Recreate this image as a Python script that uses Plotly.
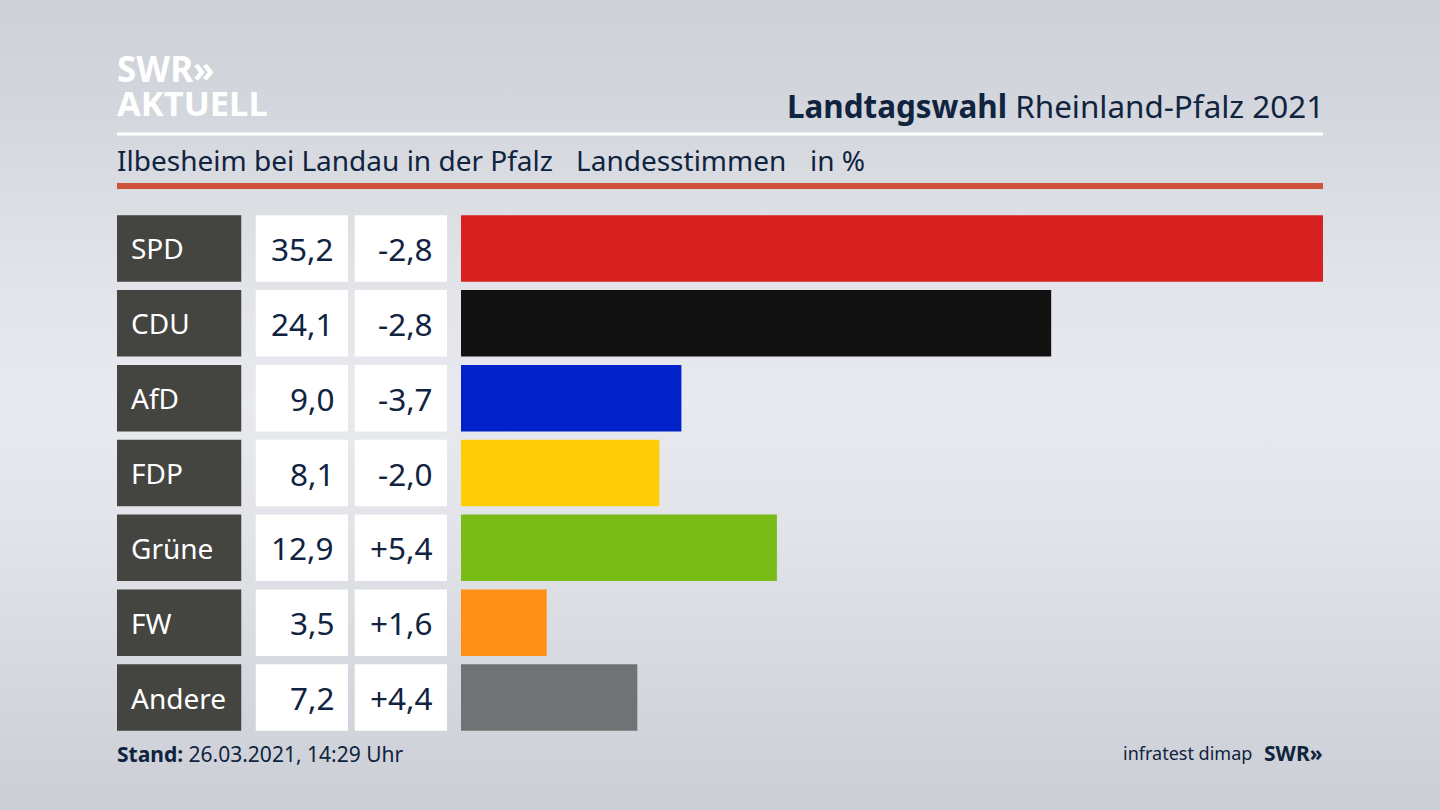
###########
# IMPORTS #
###########
import plotly.graph_objects as go

########
# DATA #
########
parties = ['SPD', 'CDU', 'AfD', 'FDP', 'Grüne', 'FW', 'Andere']
shares = [35.2, 24.1, 9.0, 8.1, 12.9, 3.5, 7.2]
changes = [-2.8, -2.8, -3.7, -2.0, 5.4, 1.6, 4.4]
party_colors = ['#D7201F', '#121212', '#0022C8', '#FFCD08', '#79BC18', '#FF9015', '#717273']

W, H = 1440, 810
FONT = 'Noto Sans'
INK = '#10233F'


def px_x(x):
    return x / W


def px_y(y):
    return 1 - y / H


def de_num(v, sign=False):
    fmt = '{:+.1f}' if sign else '{:.1f}'
    return fmt.format(v).replace('.', ',')


fig = go.Figure()

# Bars
fig.add_trace(go.Bar(y=parties, x=shares, orientation='h',
                     marker=dict(color=party_colors, line=dict(width=0)),
                     xaxis='x', yaxis='y', hoverinfo='skip'))

# Label and number cells are one-unit bars on their own small axes
cells = [('x2', '#444441', 117, 241.5), ('x3', '#FFFFFF', 255.5, 348), ('x4', '#FFFFFF', 354.5, 447)]
axis_layout = {}
for name, color, left, right in cells:
    fig.add_trace(go.Bar(y=parties, x=[1] * len(parties), orientation='h',
                         marker=dict(color=color, line=dict(width=0)),
                         xaxis=name, yaxis='y', hoverinfo='skip'))
    axis_layout['xaxis' + name[1:]] = dict(domain=[px_x(left), px_x(right)], range=[0, 1],
                                           visible=False, fixedrange=True, anchor='y')

annotations = []


def add_text(text, x, y, size, color=INK, anchor='left', yref='paper', height=None):
    annotations.append(dict(text=text, x=x, y=y, xref='paper', yref=yref, xanchor=anchor,
                            yanchor='middle', showarrow=False, borderpad=0, borderwidth=0,
                            height=height,
                            font=dict(family=FONT, size=size, color=color)))


# Row texts
for party, share, change in zip(parties, shares, changes):
    add_text(party, px_x(131), party, 28, '#FFFFFF', yref='y')
    add_text(de_num(share), px_x(333.5), party, 31.5, anchor='right', yref='y')
    add_text(de_num(change, sign=True), px_x(433), party, 31.5, anchor='right', yref='y')

# Header
add_text('<b>SWR»</b>', px_x(117), px_y(68), 35, '#FFFFFF', height=30)
add_text('<b>AKTUELL</b>', px_x(117), px_y(102), 34.5, '#FFFFFF', height=30)
add_text('<b>Landtagswahl</b> Rheinland-Pfalz 2021', px_x(1324), px_y(105), 31.4, anchor='right')
add_text('Ilbesheim bei Landau in der Pfalz', px_x(117), px_y(160), 28)
add_text('Landesstimmen', px_x(576), px_y(160), 28)
add_text('in %', px_x(810), px_y(160), 28)

# Footer
add_text('<b>Stand:</b> 26.03.2021, 14:29 Uhr', px_x(117), px_y(754), 21)
add_text('infratest dimap', px_x(1252), px_y(753), 18, anchor='right')
add_text('<b>SWR»</b>', px_x(1323), px_y(753), 21, anchor='right')

fig.update_layout(
    width=W, height=H, margin=dict(l=0, r=0, t=0, b=0),
    paper_bgcolor='rgba(0,0,0,0)', plot_bgcolor='rgba(0,0,0,0)',
    showlegend=False, bargap=0.112,
    xaxis=dict(domain=[px_x(461), px_x(1323)], range=[0, 35.2], visible=False, fixedrange=True),
    yaxis=dict(domain=[px_y(735), px_y(211)], autorange='reversed', visible=False, fixedrange=True,
               categoryorder='array', categoryarray=parties),
    annotations=annotations,
    shapes=[
        dict(type='rect', xref='paper', yref='paper', x0=px_x(117), x1=px_x(1323),
             y0=px_y(135.5), y1=px_y(132.5), fillcolor='#FFFFFF', line_width=0),
        dict(type='rect', xref='paper', yref='paper', x0=px_x(117), x1=px_x(1323),
             y0=px_y(189), y1=px_y(183), fillcolor='#CE5238', line_width=0),
    ],
    **axis_layout,
)

# Page background is the soft grey gradient behind the transparent figure
background = (
    "document.body.style.margin='0';"
    "document.body.style.background="
    "'linear-gradient(180deg, #CDD0D7 0%, #D4D7DD 15%, #E2E4E9 35%, #E9EAEF 50%, #E2E4E9 65%, #D3D6DC 87%, #CBCFD5 100%)';"
)
fig.write_html("out.html", post_script=background, config=dict(displayModeBar=False))
